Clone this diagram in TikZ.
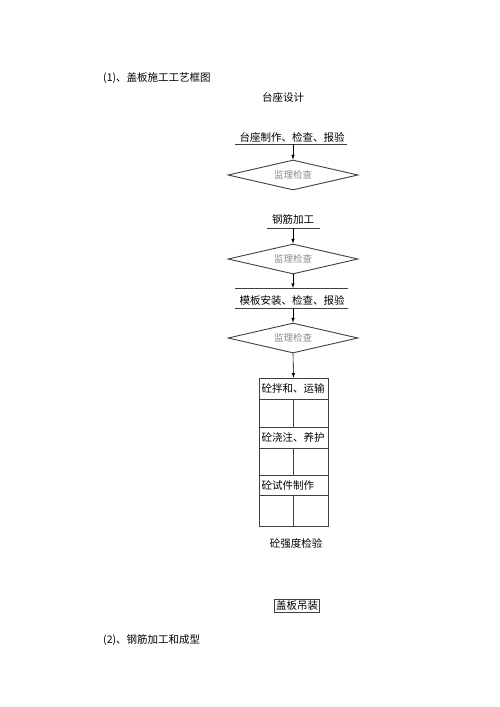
\documentclass[tikz,border=0pt]{standalone}
\usepackage{fontspec}
\newfontfamily\cjk{Noto Sans CJK SC}
\usetikzlibrary{shapes.geometric}
\usetikzlibrary{arrows}

\definecolor{linegray}{HTML}{404040}
\definecolor{checkgray}{HTML}{8A8A8A}

\tikzset{
  steptext/.style={font=\cjk\fontsize{10.5}{12}\selectfont,inner sep=0pt},
  checkbox/.style={diamond,draw=linegray,line width=0.9pt,minimum width=130pt,minimum height=30pt,
    aspect=4.3,inner sep=0pt,font=\cjk\fontsize{9.5}{11}\selectfont,text=checkgray},
  cellbox/.style={rectangle,draw=linegray,line width=0.6pt,minimum width=69pt,inner xsep=2.5pt,inner ysep=0pt,
    text width=64pt,align=left,font=\cjk\fontsize{10.5}{12}\selectfont},
  flow/.style={draw=black,line width=0.6pt,-latex},
  rule/.style={draw=linegray,line width=0.8pt},
}

\begin{document}
\begin{tikzpicture}[x=1pt,y=-1pt]
\useasboundingbox (0,0) rectangle (500,707);
\node[steptext,anchor=west] (title1) at (103,78) {(1)、盖板施工工艺框图};
\node[steptext] (design) at (283,97) {台座设计};
% bench
\node[steptext] (bench) at (292,137) {台座制作、检查、报验};
\coordinate (benchL) at (235,144);
\coordinate (benchR) at (347,144);
\coordinate (benchM) at (293,144);
\draw[rule] (benchL) -- (benchR);
\node[checkbox] (chk1) at (293,175) {监理检查};
\draw[flow] (benchM) -- (chk1.north);
% rebar
\node[steptext] (rebar) at (293,220) {钢筋加工};
\coordinate (rebarL) at (267,228);
\coordinate (rebarR) at (320,228);
\coordinate (rebarM) at (293,228);
\draw[rule] (rebarL) -- (rebarR);
\node[checkbox] (chk2) at (293,259) {监理检查};
\draw[flow] (rebarM) -- (chk2.north);
% formwork
\coordinate (formTL) at (235,288);
\coordinate (formTR) at (348,288);
\coordinate (formTM) at (293,288);
\draw[rule] (formTL) -- (formTR);
\node[steptext] (form) at (292,300) {模板安装、检查、报验};
\coordinate (formBL) at (235,308);
\coordinate (formBR) at (348,308);
\coordinate (formBM) at (293,308);
\draw[rule] (formBL) -- (formBR);
\draw[flow] (chk2.south) -- (formTM);
\node[checkbox] (chk3) at (293,338) {监理检查};
\draw[flow] (formBM) -- (chk3.north);
% concrete
\node[cellbox,minimum height=21pt] (mix) at (293.5,388.5) {砼拌和、运输};
\node[cellbox,minimum height=28pt] (gap1) at (293.5,413) {};
\node[cellbox,minimum height=21pt] (pour) at (293.5,437.5) {砼浇注、养护};
\node[cellbox,minimum height=27pt] (gap2) at (293.5,461.5) {};
\node[cellbox,minimum height=20pt] (sample) at (293.5,485) {砼试件制作};
\node[cellbox,minimum height=31pt] (gap3) at (293.5,510.5) {};
\draw[flow] (chk3.south) -- (mix.north);
\draw[rule,line width=0.6pt] (gap1.north) -- (gap1.south);
\draw[rule,line width=0.6pt] (gap2.north) -- (gap2.south);
\draw[rule,line width=0.6pt] (gap3.north) -- (gap3.south);
\node[steptext] (strength) at (296,544) {砼强度检验};
\node[steptext,draw=linegray,line width=0.6pt,inner sep=1.5pt] (lift) at (297,606) {盖板吊装};
\node[steptext,anchor=west] (title2) at (103,640) {(2)、钢筋加工和成型};
\end{tikzpicture}
\end{document}
